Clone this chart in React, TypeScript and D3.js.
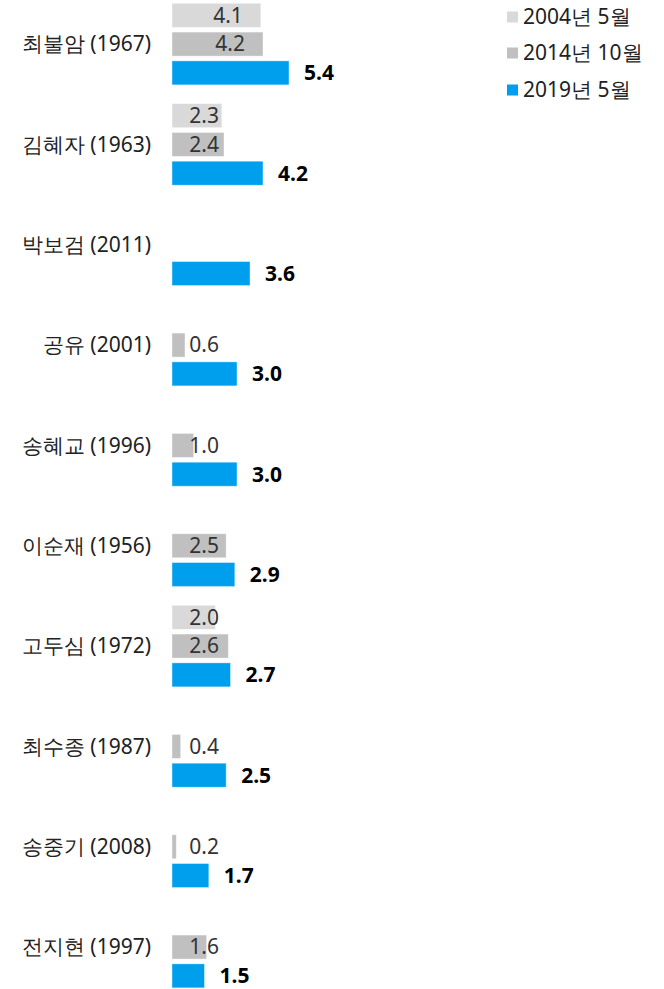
import React from "react";
import * as d3 from "d3";

const categories = [
  "최불암 (1967)",
  "김혜자 (1963)",
  "박보검 (2011)",
  "공유 (2001)",
  "송혜교 (1996)",
  "이순재 (1956)",
  "고두심 (1972)",
  "최수종 (1987)",
  "송중기 (2008)",
  "전지현 (1997)",
];
const seriesNames = ["2004년 5월", "2014년 10월", "2019년 5월"];
const values2004: (number | null)[] = [4.1, 2.3, null, null, null, null, 2.0, null, null, null];
const values2014: (number | null)[] = [4.2, 2.4, null, 0.6, 1.0, 2.5, 2.6, 0.4, 0.2, 1.6];
const values2019: (number | null)[] = [5.4, 4.2, 3.6, 3.0, 3.0, 2.9, 2.7, 2.5, 1.7, 1.5];
const seriesColors = ["#d9d9d9", "#c0c0c0", "#009fee"];

const W = 664;
const H = 989;
const FONT = "'Noto Sans'";

export default function App() {
  const series = [values2004, values2014, values2019];
  const x = d3.scaleLinear().domain([0, 6]).range([172, 172 + 130]);
  const y0 = d3.scaleBand<string>().domain(categories).range([3.3, 3.3 + 100.33 * categories.length]);
  const y1 = d3.scaleBand<string>().domain(seriesNames).range([0, 81.6]).paddingInner(0.165);
  const bw = y1.bandwidth();

  return (
    <svg width={W} height={H} style={{ position: "absolute", left: 0, top: 0, fontFamily: FONT }}>
      {categories.map((c, i) => {
        const gy = y0(c)!;
        return (
          <g key={c}>
            <text
              x={151}
              y={gy + y1(seriesNames[1])! + bw / 2}
              dy="0.35em"
              textAnchor="end"
              fontSize={21}
              fill="#222"
            >
              {c}
            </text>
            {series.map((vals, s) => {
              const v = vals[i];
              if (v == null) return null;
              const by = gy + y1(seriesNames[s])!;
              const xe = x(v);
              const isMain = s === 2;
              const lx = isMain ? xe + 15 : Math.max(xe - 18, x(0) + 47);
              return (
                <g key={s}>
                  <rect
                    x={x(0)}
                    y={by}
                    width={xe - x(0)}
                    height={bw}
                    fill={seriesColors[s]}
                    stroke="#ffffff"
                    strokeOpacity={0.5}
                    strokeWidth={0.8}
                  />
                  <text
                    x={lx}
                    y={by + bw / 2}
                    dy="0.35em"
                    textAnchor={isMain ? "start" : "end"}
                    fontSize={21}
                    fontWeight={isMain ? 700 : 400}
                    fill={isMain ? "#000" : "#333"}
                  >
                    {v.toFixed(1)}
                  </text>
                </g>
              );
            })}
          </g>
        );
      })}
      {seriesNames.map((n, s) => {
        const ly = [17, 53, 90][s];
        return (
          <g key={n}>
            <rect x={507} y={ly - 5.5} width={11} height={11} fill={seriesColors[s]} />
            <text x={523} y={ly} dy="0.35em" fontSize={21} fill="#222">
              {n}
            </text>
          </g>
        );
      })}
    </svg>
  );
}
